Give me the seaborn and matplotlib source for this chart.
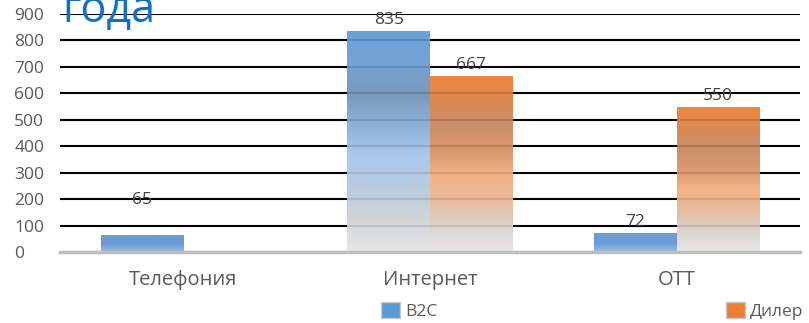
import numpy as np
import pandas as pd
import seaborn as sns
import matplotlib.pyplot as plt
from matplotlib.colors import LinearSegmentedColormap
from matplotlib.patches import Patch

categories = ["Телефония", "Интернет", "OTT"]
series = ["B2C", "Дилер"]
b2c = [65, 835, 72]
diler = [None, 667, 550]
yticks = [0, 100, 200, 300, 400, 500, 600, 700, 800, 900]

colors = {"B2C": "#5B9BD5", "Дилер": "#ED7D31"}

# gradient stops bottom -> top, like the excel fill
grad_tall = {
    "B2C": ["#e6e6e6", "#cdd0d4", "#b5c8de", "#a6c6ea", "#86abd6", "#6e90b6", "#6a9ad0", "#5b9bd5"],
    "Дилер": ["#e6e6e6", "#d8d0cb", "#e6b596", "#f3ac7c", "#d98f62", "#c4865e", "#d97f42", "#ed7d31"],
}
grad_short = {
    "B2C": ["#8fb5df", "#5b92cf", "#5b9bd5"],
    "Дилер": ["#f3ac7c", "#e0803a", "#ed7d31"],
}

rows = []
for c, v in zip(categories, b2c):
    rows.append({"cat": c, "val": v, "series": "B2C"})
for c, v in zip(categories, diler):
    if v is not None:
        rows.append({"cat": c, "val": v, "series": "Дилер"})
df = pd.DataFrame(rows)

sns.set_style("white")
plt.rcParams["font.family"] = ["Open Sans", "DejaVu Sans"]

fig = plt.figure(figsize=(8.09, 3.23), dpi=100)
ax = fig.add_axes([60 / 809, 71 / 323, 740 / 809, 238 / 323])

sns.barplot(data=df, x="cat", y="val", hue="series", order=categories,
            hue_order=series, palette=colors, width=0.67, saturation=1,
            errorbar=None, legend=False, ax=ax)

ax.set_xlim(-0.5, 2.5)
ax.set_ylim(0, 900)
ax.set_yticks(yticks)
ax.yaxis.grid(True, color="black", lw=1.5)
ax.set_axisbelow(True)
ax.set_xlabel("")
ax.set_ylabel("")
for s in ["top", "left", "right"]:
    ax.spines[s].set_visible(False)
ax.spines["bottom"].set_color("#bfbfbf")
ax.spines["bottom"].set_linewidth(2.5)

ax.tick_params(axis="y", length=0, pad=33, labelsize=12.5, labelcolor="#595959")
for lab in ax.get_yticklabels():
    lab.set_ha("left")
ax.tick_params(axis="x", length=0, pad=13, labelsize=14.5, labelcolor="#595959")

# gradient fills
grad = np.linspace(0, 1, 256).reshape(-1, 1)
for name, cont in zip(series, ax.containers):
    for p in cont:
        h = p.get_height()
        if not h or np.isnan(h):
            continue
        x0, y0, w = p.get_x(), p.get_y(), p.get_width()
        stops = grad_tall[name] if h > 150 else grad_short[name]
        cmap = LinearSegmentedColormap.from_list(name + "_g", stops)
        im = ax.imshow(grad, cmap=cmap, origin="lower", aspect="auto",
                       extent=[x0, x0 + w, y0, y0 + h], zorder=1.5, alpha=0.92)
        im.set_clip_path(p)
        p.set_facecolor("none")
        p.set_edgecolor("none")

for i, cont in enumerate(ax.containers):
    texts = ax.bar_label(cont, fmt="%d", padding=2, fontsize=12.5, color="#404040")
    if i == 0:
        texts[0].xyann = (0, 19)

ax.set_xlim(-0.5, 2.5)
ax.set_ylim(0, 900)

fig.text(62 / 809, 1 - 22 / 323, "года", color="#1170C4", fontsize=31,
         va="baseline", ha="left")

handles = [Patch(facecolor=colors[s], edgecolor="#c8c8c8", label=s) for s in series]
fig.legend(handles=handles, ncol=2, frameon=False, loc="upper left",
           bbox_to_anchor=(381 / 809, 1 - 302 / 323), borderaxespad=0, borderpad=0,
           handlelength=1.1, handleheight=1.0, handletextpad=0.3, columnspacing=16.6,
           prop={"size": 12.5}, labelcolor="#595959")

fig.savefig("out.png", dpi=100)
